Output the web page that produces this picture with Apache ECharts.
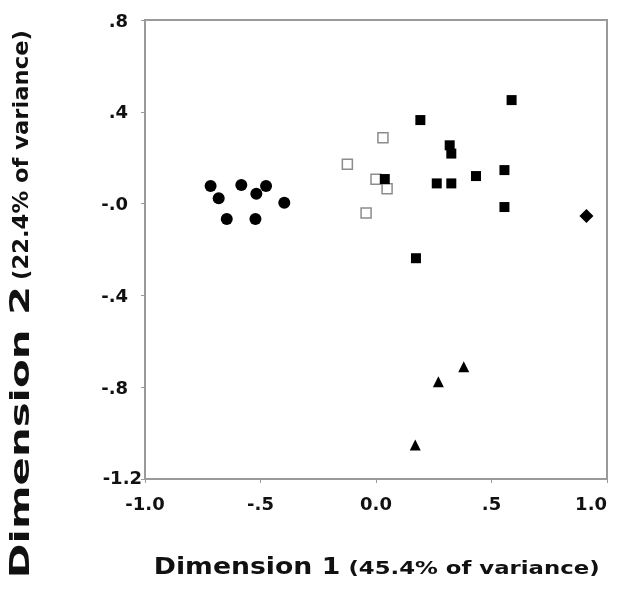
<!DOCTYPE html>
<html>
<head>
<meta charset="utf-8">
<script src="https://cdn.jsdelivr.net/npm/echarts@6/dist/echarts.min.js"></script>
<style>
  html, body { margin: 0; padding: 0; background: #fff; }
  #chart { width: 621px; height: 595px; }
</style>
</head>
<body>
<div id="chart"></div>
<script>
// point groups (dimension 1, dimension 2)
const circles = [[-0.716, 0.077], [-0.681, 0.023], [-0.583, 0.081], [-0.476, 0.077],
  [-0.518, 0.043], [-0.397, 0.004], [-0.646, -0.067], [-0.522, -0.067]]
const openSquares = [[0.030, 0.287], [-0.124, 0.171], [0.0, 0.106], [0.048, 0.065], [-0.043, -0.041]]
const filledSquares = [[0.192, 0.364], [0.038, 0.107], [0.587, 0.451], [0.319, 0.254], [0.326, 0.218],
  [0.433, 0.120], [0.556, 0.146], [0.263, 0.088], [0.326, 0.088], [0.556, -0.015], [0.173, -0.238]]
const triangles = [[0.380, -0.711], [0.270, -0.776], [0.170, -1.052]]
const diamonds = [[0.911, -0.054]]

// tick values and their printed labels
const xTicks = [-1, -0.5, 0, 0.5, 1]
const xTickLabels = ['-1.0', '-.5', '0.0', '.5', '1.0']
const yTicks = [-1.2, -0.8, -0.4, 0, 0.4, 0.8]
const yTickLabels = ['-1.2', '-.8', '-.4', '-.0', '.4', '.8']

const FONT = 'DejaVu Sans'
const GRAY = '#9a9a9a'

const tickLabel = (ticks, labels, v) => {
  const i = ticks.findIndex(t => Math.abs(t - v) < 1e-6)
  return i < 0 ? '' : labels[i]
}

const chart = echarts.init(document.getElementById('chart'))

const titleText = (text, size, x, y, scale, rotate) => ({
  type: 'text',
  x: x,
  y: y,
  rotation: rotate ? Math.PI / 2 : 0,
  scaleX: scale,
  style: {
    text: text,
    fontFamily: FONT,
    fontWeight: 'bold',
    fontSize: size,
    fill: '#111',
    align: 'center',
    verticalAlign: 'middle'
  }
})

const markStyle = (fill, border) => ({
  color: fill,
  opacity: 1,
  borderColor: border || fill,
  borderWidth: border ? 1.5 : 0
})

const option = {
  backgroundColor: '#fff',
  animation: false,
  grid: {
    left: 145,
    top: 20,
    right: 14,
    bottom: 116,
    show: true,
    borderColor: GRAY,
    borderWidth: 2,
    outerBoundsMode: 'none'
  },
  xAxis: {
    type: 'value',
    min: -1,
    max: 1,
    interval: 0.5,
    splitLine: { show: false },
    axisLine: { onZero: false, lineStyle: { color: GRAY, width: 2 } },
    axisTick: { show: true, length: 4, lineStyle: { color: GRAY } },
    axisLabel: {
      margin: 17,
      fontFamily: FONT,
      fontWeight: 'bold',
      fontSize: 18,
      color: '#111',
      alignMaxLabel: 'right',
      formatter: v => tickLabel(xTicks, xTickLabels, v)
    }
  },
  yAxis: {
    type: 'value',
    min: -1.2,
    max: 0.8,
    interval: 0.4,
    splitLine: { show: false },
    axisLine: { onZero: false, lineStyle: { color: GRAY, width: 2 } },
    axisTick: { show: true, length: 4, lineStyle: { color: GRAY } },
    axisLabel: {
      margin: 3,
      fontFamily: FONT,
      fontWeight: 'bold',
      fontSize: 18,
      color: '#111',
      formatter: v => {
        const s = tickLabel(yTicks, yTickLabels, v)
        // the long -1.2 label sits closer to the axis than the others
        return s === '-1.2' ? '{w|' + s + '}' : '{n|' + s + '}'
      },
      rich: {
        w: { fontFamily: FONT, fontWeight: 'bold', fontSize: 18, color: '#111' },
        n: { fontFamily: FONT, fontWeight: 'bold', fontSize: 18, color: '#111', padding: [4, 14, 0, 0] }
      }
    }
  },
  graphic: [
    titleText('Dimension 1', 23, 247, 568, 1.16, false),
    titleText('(45.4% of variance)', 17, 474, 570, 1.34, false),
    titleText('Dimension 2', 27, 22, 432, 1.55, true),
    titleText('(22.4% of variance)', 22, 22, 155, 1.03, true)
  ],
  series: [
    {
      name: 'circles',
      type: 'scatter',
      symbol: 'circle',
      symbolSize: 12,
      itemStyle: markStyle('#000'),
      data: circles
    },
    {
      name: 'open squares',
      type: 'scatter',
      symbol: 'rect',
      symbolSize: 10,
      itemStyle: markStyle('#fff', '#8c8c8c'),
      data: openSquares
    },
    {
      name: 'filled squares',
      type: 'scatter',
      symbol: 'rect',
      symbolSize: 10,
      itemStyle: markStyle('#000'),
      data: filledSquares
    },
    {
      name: 'triangles',
      type: 'scatter',
      symbol: 'triangle',
      symbolSize: 11,
      itemStyle: markStyle('#000'),
      data: triangles
    },
    {
      name: 'diamonds',
      type: 'scatter',
      symbol: 'diamond',
      symbolSize: 14,
      itemStyle: markStyle('#000'),
      data: diamonds
    }
  ]
}

chart.setOption(option)
</script>
</body>
</html>
